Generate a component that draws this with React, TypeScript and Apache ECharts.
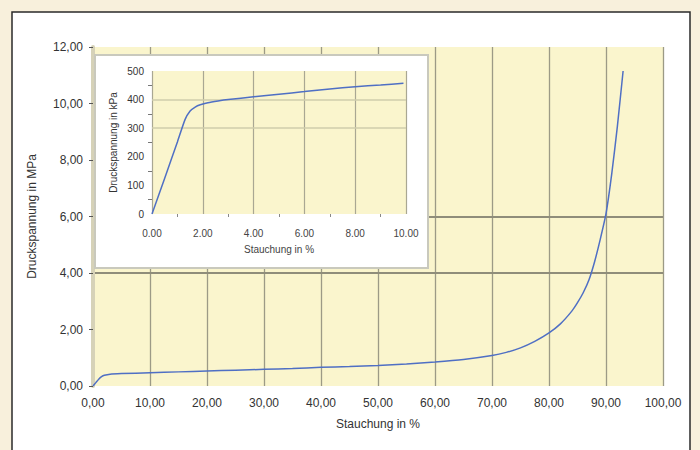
import React, { useEffect, useRef } from "react";
import * as echarts from "echarts";

// Main chart: compression (%) vs. compressive stress (MPa)
const mainStrain = [0, 0.5, 1, 1.5, 2, 3, 5, 10, 15, 20, 25, 30, 35, 40, 45, 50, 55, 60, 65, 70, 72.5, 75, 77.5, 80, 82, 84, 85, 86, 87, 88, 89, 90, 91, 92, 93];
const mainStress = [0, 0.12, 0.24, 0.33, 0.38, 0.42, 0.44, 0.47, 0.5, 0.53, 0.56, 0.59, 0.62, 0.66, 0.69, 0.73, 0.78, 0.85, 0.94, 1.08, 1.19, 1.35, 1.58, 1.88, 2.2, 2.65, 2.95, 3.3, 3.75, 4.4, 5.2, 6.1, 7.5, 9.2, 11.15];

// Inset: compression (%) vs. compressive stress (kPa)
const insetStrain = [0, 0.5, 1.0, 1.3, 1.5, 1.7, 1.9, 2.2, 2.6, 3, 4, 5, 6, 7, 8, 9, 9.9];
const insetStress = [0, 125, 252, 330, 360, 374, 382, 389, 395, 400, 410, 419, 428, 437, 445, 451, 457];

const mainHLines = [4, 6];
const insetHLines = [300, 400];

const xTitle = "Stauchung in %";
const mainYTitle = "Druckspannung in MPa";
const insetYTitle = "Druckspannung in kPa";

export default function App() {
  const ref = useRef<HTMLDivElement>(null);
  useEffect(() => {
    if (!ref.current) return;
    const chart = echarts.init(ref.current, undefined, { renderer: "svg" });
    const font = "Liberation Sans, Arial, sans-serif";
    const comma = (v: number) => v.toFixed(2).replace(".", ",");
    const lineColor = "#4f6fc4";
    chart.setOption({
      animation: false,
      backgroundColor: "#f8f0dc",
      textStyle: { fontFamily: font },
      graphic: [
        {
          type: "rect",
          z: -10,
          shape: { x: 12, y: 12, width: 678, height: 460 },
          style: { fill: "#ffffff", stroke: "#2a2a2a", lineWidth: 1.5 },
        },
        {
          type: "rect",
          z: 1,
          shape: { x: 95, y: 55, width: 333, height: 213 },
          style: { fill: "#ffffff", stroke: "#c9c9bd", lineWidth: 2 },
        },
      ],
      grid: [
        { left: 93, top: 47, width: 570, height: 339, show: true, backgroundColor: "#faf5cd", borderWidth: 0, z: 0 },
        { left: 152, top: 71, width: 254, height: 143, show: true, backgroundColor: "#faf5cd", borderWidth: 0, z: 2 },
      ],
      xAxis: [
        {
          gridIndex: 0,
          type: "value",
          min: 0,
          max: 100,
          interval: 10,
          name: xTitle,
          nameLocation: "middle",
          nameGap: 32,
          nameTextStyle: { color: "#333", fontSize: 12, fontFamily: font },
          axisLine: { show: false },
          axisTick: { show: false },
          axisLabel: { color: "#333", fontSize: 12, margin: 11, formatter: comma, fontFamily: font },
          splitLine: { show: true, lineStyle: { color: "#9c9a86", width: 1.3 } },
          z: 0,
        },
        {
          gridIndex: 1,
          type: "value",
          min: 0,
          max: 10,
          interval: 2,
          name: xTitle,
          nameLocation: "middle",
          nameGap: 30,
          nameTextStyle: { color: "#444", fontSize: 10, fontFamily: font },
          axisLine: { show: false },
          axisTick: { show: false },
          minorTick: { show: true, splitNumber: 2, length: 3, lineStyle: { color: "#888" } },
          axisLabel: { color: "#444", fontSize: 10, margin: 14, formatter: (v: number) => v.toFixed(2), fontFamily: font },
          splitLine: { show: true, lineStyle: { color: "#a9a793", width: 1.2 } },
          z: 3,
        },
      ],
      yAxis: [
        {
          gridIndex: 0,
          type: "value",
          min: 0,
          max: 12,
          interval: 2,
          name: mainYTitle,
          nameLocation: "middle",
          nameGap: 55,
          nameTextStyle: { color: "#333", fontSize: 12, fontFamily: font },
          axisLine: { show: true, lineStyle: { color: "#d6d2b8", width: 4 } },
          axisTick: { show: true, length: 4, lineStyle: { color: "#555" } },
          axisLabel: { color: "#333", fontSize: 12, margin: 10, formatter: comma, fontFamily: font },
          splitLine: { show: false },
          z: 0,
        },
        {
          gridIndex: 1,
          type: "value",
          min: 0,
          max: 500,
          interval: 100,
          name: insetYTitle,
          nameLocation: "middle",
          nameGap: 34,
          nameTextStyle: { color: "#333", fontSize: 10, fontFamily: font },
          axisLine: { show: false },
          axisTick: { show: false },
          minorTick: { show: true, splitNumber: 2, length: 4, lineStyle: { color: "#777" } },
          axisLabel: { color: "#333", fontSize: 10, margin: 8, fontFamily: font },
          splitLine: { show: false },
          z: 3,
        },
      ],
      series: [
        {
          type: "line",
          xAxisIndex: 0,
          yAxisIndex: 0,
          data: mainStrain.map((x, i) => [x, mainStress[i]]),
          showSymbol: false,
          smooth: 0.2,
          lineStyle: { color: lineColor, width: 1.5 },
          z: 2,
          markLine: {
            silent: true,
            symbol: "none",
            z: 0,
            label: { show: false },
            lineStyle: { color: "#8f8d7a", width: 1.8, type: "solid" },
            data: mainHLines.map((v) => ({ yAxis: v })),
          },
        },
        {
          type: "line",
          xAxisIndex: 1,
          yAxisIndex: 1,
          data: insetStrain.map((x, i) => [x, insetStress[i]]),
          showSymbol: false,
          smooth: 0.2,
          lineStyle: { color: lineColor, width: 1.5 },
          z: 5,
          markLine: {
            silent: true,
            symbol: "none",
            z: 3,
            label: { show: false },
            lineStyle: { color: "#cfccab", width: 1.5, type: "solid" },
            data: insetHLines.map((v) => ({ yAxis: v })),
          },
        },
      ],
    });
    return () => chart.dispose();
  }, []);
  return <div ref={ref} style={{ position: "fixed", left: 0, top: 0, width: 700, height: 450 }} />;
}
